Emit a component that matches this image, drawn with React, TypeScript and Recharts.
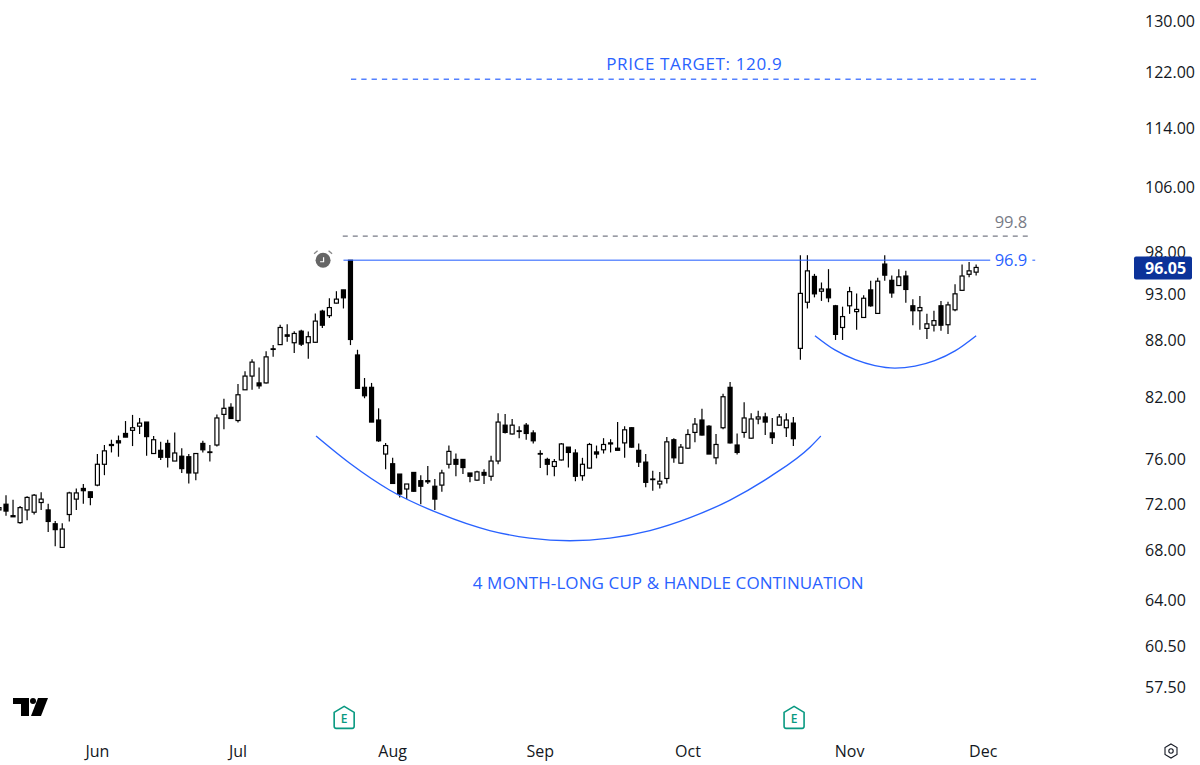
import { Bar, ComposedChart, Line, ReferenceDot, ReferenceLine, XAxis, YAxis } from "recharts";

const opens = [
  71.4, 71.9, 70.9, 70.3, 71.4, 71.2, 72.05, 71.4, 70.2, 68.2,
  71.0, 72.35, 73.3, 73.0, 73.6, 75.5, 77.35, 77.7, 78.4, 78.7,
  79.1, 79.5, 76.5, 76.8, 77.45, 75.8, 76.25, 76.2, 74.7, 77.45,
  76.65, 77.3, 80.25, 80.95, 79.65, 82.7, 84.1, 83.4, 83.4, 86.95,
  87.4, 88.45, 87.6, 88.85, 87.6, 87.65, 91.05, 90.55, 91.95, 93.45,
  96.9, 86.3, 82.95, 82.95, 79.7, 76.45, 75.55, 74.6, 73.25, 74.75,
  74.0, 74.0, 73.5, 73.6, 75.5, 75.95, 75.95, 74.7, 74.05, 74.75,
  74.4, 75.8, 79.2, 78.35, 78.65, 79.2, 78.45, 76.5, 75.95, 75.3,
  75.9, 77.1, 76.55, 74.45, 75.15, 76.65, 76.85, 77.5, 77.0, 77.5,
  78.95, 76.8, 75.7, 74.15, 73.7, 74.2, 77.8, 75.6, 77.0, 78.5,
  79.7, 79.1, 76.1, 78.95, 82.95, 77.3, 78.5, 77.95, 79.8, 80.0,
  78.45, 79.2, 78.95, 79.4, 87.0, 92.05, 95.0, 93.3, 93.55, 91.65,
  89.25, 91.65, 91.0, 90.35, 93.45, 90.8, 96.45, 94.55, 93.95, 95.05,
  91.65, 91.1, 89.15, 89.5, 91.65, 89.55, 91.2, 93.4, 95.25, 95.5,
];
const highs = [
  71.8, 72.7, 72.3, 71.75, 72.6, 72.8, 72.95, 71.95, 70.45, 70.25,
  73.0, 73.3, 73.7, 73.0, 76.45, 77.3, 77.8, 78.2, 79.6, 80.2,
  79.9, 79.5, 78.15, 77.6, 77.8, 78.5, 77.0, 76.45, 76.5, 77.7,
  77.3, 80.25, 81.8, 81.35, 83.3, 84.6, 85.85, 85.0, 86.7, 87.35,
  89.55, 89.6, 88.85, 89.0, 88.8, 90.8, 91.2, 92.5, 93.3, 93.45,
  96.9, 86.85, 83.9, 83.4, 80.85, 77.5, 76.1, 74.6, 73.7, 74.75,
  74.5, 75.35, 74.15, 75.0, 77.25, 76.5, 75.95, 74.7, 74.9, 75.05,
  76.3, 80.35, 80.3, 79.8, 79.1, 79.4, 78.7, 76.8, 76.1, 76.0,
  77.5, 77.1, 76.9, 76.1, 77.5, 77.25, 77.95, 77.85, 79.5, 79.1,
  79.0, 77.45, 76.45, 74.9, 74.8, 78.05, 77.95, 77.4, 78.8, 79.9,
  80.8, 79.2, 78.35, 82.3, 83.5, 78.4, 81.45, 80.35, 80.6, 80.4,
  79.9, 80.3, 80.35, 80.0, 97.5, 97.5, 95.3, 94.3, 95.85, 91.75,
  91.55, 93.8, 93.05, 92.85, 94.5, 94.85, 97.5, 95.1, 95.85, 95.65,
  92.4, 92.75, 90.75, 91.1, 92.2, 92.1, 94.1, 96.4, 96.7, 96.4,
];
const lows = [
  71.2, 70.9, 70.8, 70.2, 70.5, 71.0, 71.4, 69.5, 68.3, 68.15,
  70.4, 71.4, 71.95, 71.8, 73.5, 74.5, 76.6, 76.2, 78.05, 77.2,
  78.35, 76.3, 76.45, 75.9, 75.2, 75.8, 74.7, 73.75, 74.05, 76.6,
  75.75, 77.15, 78.8, 79.8, 79.45, 82.7, 82.7, 82.8, 83.35, 86.1,
  87.4, 87.7, 86.5, 87.25, 85.9, 87.6, 89.2, 90.3, 91.9, 91.35,
  87.35, 82.8, 81.85, 79.5, 77.6, 75.05, 73.7, 72.5, 72.35, 73.0,
  71.9, 73.7, 71.4, 73.0, 75.1, 74.4, 74.6, 73.85, 74.0, 73.7,
  74.0, 75.5, 78.4, 78.3, 77.95, 77.8, 77.45, 75.15, 74.5, 74.4,
  75.85, 75.2, 73.95, 74.0, 75.1, 76.05, 76.5, 76.6, 76.8, 76.1,
  77.05, 75.25, 73.4, 73.1, 73.3, 73.75, 75.65, 75.6, 76.95, 77.55,
  78.2, 76.45, 75.5, 78.8, 77.45, 76.4, 78.0, 77.9, 79.3, 78.25,
  77.4, 79.15, 78.05, 77.2, 85.8, 91.35, 92.6, 92.2, 92.05, 87.9,
  87.9, 90.75, 89.0, 90.3, 91.55, 90.75, 94.5, 92.55, 93.95, 92.0,
  89.5, 89.0, 88.0, 88.8, 88.9, 88.55, 91.05, 93.35, 94.9, 95.1,
];
const closes = [
  71.6, 71.3, 70.8, 71.6, 72.5, 72.7, 72.35, 70.4, 69.7, 69.75,
  72.9, 72.9, 73.1, 72.5, 75.5, 76.75, 77.25, 77.5, 78.05, 78.95,
  79.4, 78.1, 77.8, 76.15, 76.15, 76.55, 75.1, 74.7, 76.5, 76.85,
  76.6, 79.9, 80.85, 79.85, 82.2, 84.1, 85.55, 83.1, 86.1, 86.9,
  89.25, 88.3, 88.6, 87.45, 88.25, 89.95, 89.5, 91.45, 92.4, 92.55,
  87.95, 82.85, 82.1, 79.5, 77.7, 77.25, 73.75, 72.8, 73.7, 73.05,
  73.5, 73.9, 72.35, 74.7, 76.7, 75.5, 75.2, 74.4, 74.8, 74.5,
  75.8, 79.5, 78.5, 79.2, 78.6, 78.4, 77.7, 76.45, 75.5, 75.75,
  77.4, 76.6, 74.4, 75.5, 77.35, 76.45, 77.35, 77.4, 76.8, 78.75,
  77.1, 75.7, 73.85, 74.1, 73.95, 77.6, 76.1, 77.1, 78.3, 79.3,
  78.25, 76.45, 77.35, 82.0, 77.5, 76.6, 79.9, 79.8, 80.0, 79.5,
  78.0, 80.0, 79.7, 77.9, 93.05, 95.65, 93.0, 93.55, 92.55, 88.5,
  90.45, 93.25, 91.25, 92.5, 91.65, 94.45, 95.15, 93.1, 94.95, 93.5,
  91.1, 91.45, 89.65, 90.0, 89.5, 91.75, 93.0, 95.05, 95.65, 96.05,
];

const priceTicks = [130, 122, 114, 106, 98, 93, 88, 82, 76, 72, 68, 64, 60.5, 57.5];
const lastPrice = 96.05;
const monthLabels = ["Jun", "Jul", "Aug", "Sep", "Oct", "Nov", "Dec"];
const monthBars = [14, 34, 56, 77, 98, 121, 140];

const cupBars = [45.1, 49.9, 55.6, 62.7, 69.8, 75.5, 81.2, 86.9, 92.6, 98.3, 104, 109.7, 115.4, 116.9];
const cupPrices = [78.15, 75.59, 73.14, 71.07, 69.62, 68.98, 68.76, 68.98, 69.62, 70.73, 72.27, 74.37, 77.12, 78.15];
const handleBars = [116.07, 118.9, 121.8, 124.6, 127.45, 130.3, 133.1, 136, 139];
const handlePrices = [88.36, 86.83, 85.8, 85.18, 84.92, 85.13, 85.7, 86.73, 88.36];

const BLUE = "#2962ff";
const INK = "#131722";
const FONT = "'Open Sans', sans-serif";
const DOMAIN_X: [number, number] = [0.1422, 158.04];
const DOMAIN_Y: [number, number] = [54.55, 133.22];

const candles = opens.map((open, i) => ({
  i,
  open,
  high: highs[i],
  low: lows[i],
  close: closes[i],
  range: [lows[i], highs[i]],
}));
const cup = cupBars.map((i, k) => ({ i, curve: cupPrices[k] }));
const handle = handleBars.map((i, k) => ({ i, curve: handlePrices[k] }));

// the bar spans high to low, on a log axis the body sits at the log ratio between them
const Candle = (props: any) => {
  const { x, y, width, height, payload } = props;
  const { open, close, high, low } = payload;
  const span = Math.log(high / low);
  const top = y + (height * Math.log(high / Math.max(open, close))) / span;
  const bottom = y + (height * Math.log(high / Math.min(open, close))) / span;
  const cx = x + width / 2;
  return (
    <g>
      <line x1={cx} x2={cx} y1={y} y2={y + height} stroke="#000" strokeWidth={1.2} />
      <rect
        x={cx - 2}
        y={top}
        width={4}
        height={Math.max(bottom - top, 0.6)}
        fill={close >= open ? "#fff" : "#000"}
        stroke="#000"
        strokeWidth={1.2}
      />
    </g>
  );
};

const PriceTick = (props: any) => {
  const { y, payload } = props;
  const isLast = payload.value === lastPrice;
  return (
    <g>
      {isLast && <rect x={1134} y={y - 11} width={58} height={23} rx={2} fill="#0c3299" />}
      <text
        x={1145}
        y={y + (isLast ? 1 : 0.5)}
        dominantBaseline="central"
        fontFamily={FONT}
        fontSize={16}
        fontWeight={isLast ? 700 : 400}
        fill={isLast ? "#fff" : INK}
      >
        {payload.value.toFixed(2)}
      </text>
    </g>
  );
};

const Earnings = (props: any) => {
  const { cx, cy } = props;
  return (
    <g>
      <path
        d={`M${cx - 10} ${cy - 5} L${cx} ${cy - 11} L${cx + 10} ${cy - 5} V${cy + 9} Q${cx + 10} ${cy + 11} ${cx + 8} ${cy + 11} H${cx - 8} Q${cx - 10} ${cy + 11} ${cx - 10} ${cy + 9} Z`}
        fill="#fff"
        stroke="#089981"
        strokeWidth={1.6}
      />
      <text x={cx} y={cy + 1} textAnchor="middle" dominantBaseline="central" fontFamily={FONT} fontSize={12} fontWeight={600} fill="#089981">
        E
      </text>
    </g>
  );
};

const AlarmClock = (props: any) => {
  const { cx, cy } = props;
  return (
    <g>
      <circle cx={cx} cy={cy} r={7.5} fill="#666" />
      <path d={`M${cx + 0.5} ${cy - 3} V${cy + 1.5} H${cx - 3}`} fill="none" stroke="#fff" strokeWidth={1.2} />
      <path d={`M${cx - 9} ${cy - 6.5} L${cx - 5.5} ${cy - 9.5} M${cx + 9} ${cy - 6.5} L${cx + 5.5} ${cy - 9.5}`} stroke="#888" strokeWidth={1.3} />
    </g>
  );
};

const noteLabel = (value: string, fill: string, fontSize: number, letterSpacing: number) => ({
  value,
  position: "center" as const,
  fill,
  fontFamily: FONT,
  fontSize,
  letterSpacing,
});

const App = () => {
  return (
    <div style={{ position: "absolute", left: 0, top: 0, width: 1200, height: 765, background: "#fff" }}>
      <ComposedChart
        width={1200}
        height={765}
        data={candles}
        margin={{ top: 0, right: 0, bottom: 0, left: 0 }}
      >
        <XAxis
          type="number"
          dataKey="i"
          domain={DOMAIN_X}
          allowDataOverflow
          ticks={monthBars}
          interval={0}
          height={35}
          axisLine={false}
          tickLine={false}
          tickSize={0}
          tickMargin={16}
          tickFormatter={(v: number) => monthLabels[monthBars.indexOf(v)]}
          tick={{ fill: INK, fontSize: 16, fontFamily: FONT, fontWeight: 500 }}
        />
        <YAxis
          orientation="right"
          type="number"
          scale="log"
          domain={DOMAIN_Y}
          allowDataOverflow
          ticks={[...priceTicks, lastPrice]}
          interval={0}
          width={90}
          axisLine={false}
          tickLine={false}
          tick={<PriceTick />}
        />

        <ReferenceLine segment={[{ x: 50.07, y: 120.9 }, { x: 147.65, y: 120.9 }]} stroke={BLUE} strokeWidth={1.5} strokeOpacity={0.8} strokeDasharray="5.3 5" />
        <ReferenceLine segment={[{ x: 48.9, y: 99.8 }, { x: 146.4, y: 99.8 }]} stroke="#787b86" strokeWidth={1.2} strokeDasharray="5 5" />
        <ReferenceLine segment={[{ x: 49.0, y: 96.9 }, { x: 141, y: 96.9 }]} stroke={BLUE} strokeWidth={1.5} strokeOpacity={0.7} />
        <ReferenceLine segment={[{ x: 147, y: 96.9 }, { x: 147.4, y: 96.9 }]} stroke={BLUE} strokeWidth={1.5} strokeOpacity={0.7} />

        <Bar dataKey="range" barSize={5} shape={<Candle />} isAnimationActive={false} />

        <Line data={cup} dataKey="curve" type="monotone" stroke={BLUE} strokeWidth={1.4} dot={false} activeDot={false} isAnimationActive={false} />
        <Line data={handle} dataKey="curve" type="monotone" stroke={BLUE} strokeWidth={1.4} dot={false} activeDot={false} isAnimationActive={false} />

        <ReferenceDot x={98.9} y={123.2} r={0} ifOverflow="visible" label={noteLabel("PRICE TARGET: 120.9", BLUE, 17, 0.63)} />
        <ReferenceDot x={95.2} y={65.3} r={0} ifOverflow="visible" label={noteLabel("4 MONTH-LONG CUP & HANDLE CONTINUATION", BLUE, 17, 0.1)} />
        <ReferenceDot x={143.95} y={101.5} r={0} ifOverflow="visible" label={noteLabel("99.8", "#787b86", 16.5, 0)} />
        <ReferenceDot x={143.95} y={96.9} r={0} ifOverflow="visible" label={noteLabel("96.9", BLUE, 16.5, 0)} />

        <ReferenceDot x={46.1} y={96.9} ifOverflow="visible" shape={<AlarmClock />} />
        <ReferenceDot x={49.1} y={55.4} ifOverflow="visible" shape={<Earnings />} />
        <ReferenceDot x={113.1} y={55.4} ifOverflow="visible" shape={<Earnings />} />
      </ComposedChart>

      <svg width={1200} height={765} style={{ position: "absolute", left: 0, top: 0, pointerEvents: "none" }}>
        <path d="M13 698 H29 V716 H21 V704 H13 Z" fill="#000" />
        <circle cx={33} cy={701} r={3} fill="#000" />
        <path d="M38 698 H48 L41 716 H31 Z" fill="#000" />
        <path d="M1171 744 L1177 747.5 V754.5 L1171 758 L1165 754.5 V747.5 Z" fill="none" stroke={INK} strokeWidth={1.1} />
        <circle cx={1171} cy={751} r={2.2} fill="none" stroke={INK} strokeWidth={1.1} />
      </svg>
    </div>
  );
};

export default App;
